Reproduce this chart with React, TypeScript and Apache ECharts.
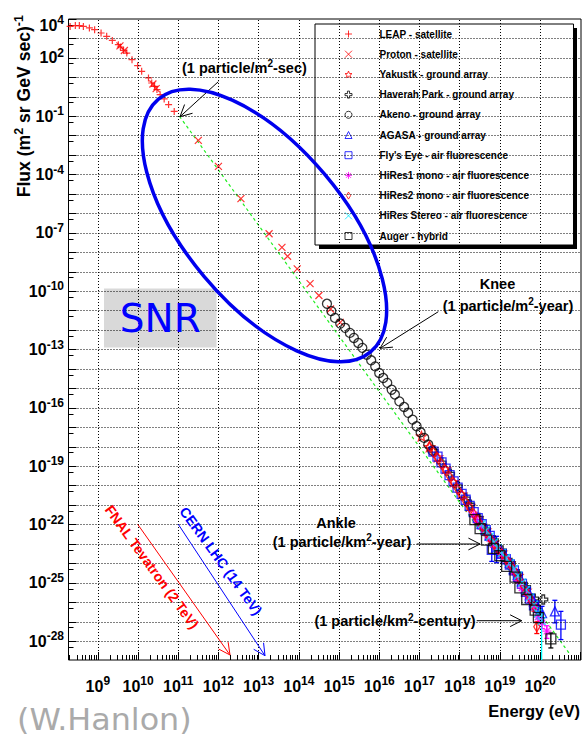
import React, { useEffect, useRef } from "react";
import * as echarts from "echarts";

// ---------- axis extents (log10 units) ----------
const xLogMin = 8.27;
const xLogMax = 21.02;
const yLogMin = -28.96;
const yLogMax = 4;

const xMajorTicks = [9, 10, 11, 12, 13, 14, 15, 16, 17, 18, 19, 20, 21];
const xTickLabels = [9, 10, 11, 12, 13, 14, 15, 16, 17, 18, 19, 20];
const xGridLines = [9, 10, 11, 12, 13, 14, 15, 16, 17, 18, 19, 20];
const yMajorTicks = [4, 3, 2, 1, 0, -1, -2, -3, -4, -5, -6, -7, -8, -9, -10, -11, -12, -13, -14, -15, -16, -17, -18, -19, -20, -21, -22, -23, -24, -25, -26, -27, -28];
const yGridLines = [3, 2, 1, 0, -1, -2, -3, -4, -5, -6, -7, -8, -9, -10, -11, -12, -13, -14, -15, -16, -17, -18, -19, -20, -21, -22, -23, -24, -25, -26, -27, -28];
const yTickLabels = [3.68, 2, -1, -4, -7, -10, -13, -16, -19, -22, -25, -28];

// ---------- data: [log10 E(eV), log10 flux] ----------
const leap: number[][] = [
  [8.31, 3.62], [8.44, 3.66], [8.54, 3.66], [8.64, 3.62], [8.79, 3.54], [8.92, 3.45],
  [9.08, 3.28], [9.22, 3.11], [9.36, 2.9], [9.51, 2.68], [9.56, 2.56], [9.64, 2.39],
  [9.72, 2.25], [9.85, 1.91], [9.99, 1.6], [10.09, 1.31], [10.26, 0.97], [10.34, 0.71],
  [10.41, 0.54], [10.47, 0.37], [10.55, 0.11], [10.65, -0.11], [10.76, -0.4], [10.9, -0.75]
];
const proton: number[][] = [
  [9.55, 2.62], [9.66, 2.38], [10.37, 0.66], [10.45, 0.42], [11.5, -2.24], [12.0, -3.58],
  [12.56, -5.24], [13.26, -7.04], [13.58, -7.74], [13.72, -8.2], [13.96, -8.85],
  [14.28, -9.61], [14.5, -10.22], [14.79, -10.91], [15.03, -11.6]
];
const yakutsk: number[][] = [
  [17.05, -17.45], [17.25, -18.0], [17.45, -18.52], [17.65, -19.12], [17.85, -19.8],
  [18.05, -20.42], [18.25, -21.05], [18.45, -21.66], [18.65, -22.28], [18.85, -22.9],
  [19.05, -23.42], [19.25, -23.98], [19.45, -24.62], [19.65, -25.38], [19.85, -26.08]
];
const haverah: number[][] = [
  [17.35, -18.2], [17.55, -18.8], [17.76, -19.38], [17.95, -20.02], [18.15, -20.65],
  [18.26, -20.97], [18.47, -21.65], [18.65, -22.22], [18.85, -22.8], [19.05, -23.33],
  [19.27, -23.97], [19.45, -24.55], [19.65, -25.2], [19.85, -25.8], [20.08, -25.85]
];
const akeno: number[][] = [
  [14.7, -10.64], [14.81, -11.02], [14.9, -11.37], [15.03, -11.66], [15.15, -11.88],
  [15.27, -12.14], [15.37, -12.4], [15.48, -12.66], [15.58, -12.91], [15.69, -13.26],
  [15.8, -13.55], [15.9, -13.86], [16.0, -14.2], [16.1, -14.46], [16.2, -14.71],
  [16.31, -15.06], [16.39, -15.31], [16.5, -15.66], [16.62, -15.95], [16.72, -16.25],
  [16.83, -16.6], [16.93, -16.94], [17.03, -17.25], [17.12, -17.54], [17.22, -17.88],
  [17.32, -18.2]
];
const agasa: number[][] = [
  [18.55, -21.95], [18.65, -22.24], [18.75, -22.55], [18.85, -22.86], [18.95, -23.15],
  [19.05, -23.42], [19.15, -23.68], [19.25, -23.95], [19.35, -24.28], [19.45, -24.58],
  [19.55, -24.92], [19.65, -25.3], [19.75, -25.62], [19.85, -25.95], [19.95, -26.25],
  [20.05, -26.55], [20.37, -26.46]
];
const flysEye: number[][] = [
  [17.35, -18.25], [17.45, -18.5], [17.55, -18.8], [17.65, -19.12], [17.75, -19.45],
  [17.85, -19.78], [17.95, -20.1], [18.05, -20.42], [18.15, -20.72], [18.25, -21.03],
  [18.35, -21.36], [18.45, -21.66], [18.55, -21.98], [18.65, -22.28], [18.75, -22.58],
  [18.8, -23.3], [18.92, -23.28], [19.05, -23.5], [19.15, -23.78], [19.25, -24.05],
  [19.35, -24.35], [19.45, -24.68], [19.55, -25.05], [19.65, -25.45], [19.75, -25.8],
  [19.85, -26.15], [20.52, -27.14]
];
const hires1: number[][] = [
  [18.35, -21.48], [18.45, -21.78], [18.55, -22.1], [18.65, -22.42], [18.75, -22.72],
  [18.85, -23.02], [18.95, -23.28], [19.05, -23.52], [19.15, -23.78], [19.25, -24.05],
  [19.35, -24.4], [19.45, -24.85], [19.55, -25.25], [19.65, -25.5], [19.75, -25.85],
  [19.85, -26.2], [19.95, -26.75], [20.05, -27.05], [20.17, -27.48]
];
const hires2: number[][] = [
  [17.25, -17.98], [17.35, -18.28], [17.45, -18.56], [17.55, -18.88], [17.65, -19.2],
  [17.75, -19.52], [17.85, -19.84], [17.95, -20.17], [18.05, -20.48], [18.15, -20.8],
  [18.25, -21.12], [18.35, -21.44], [18.45, -21.75], [18.55, -22.06], [18.65, -22.38],
  [18.75, -22.68], [18.85, -22.98], [18.95, -23.25], [19.05, -23.5], [19.15, -23.76],
  [19.25, -24.02], [19.35, -24.32], [19.45, -24.66], [19.55, -25.02], [19.65, -25.42],
  [19.75, -25.78], [19.85, -26.2], [19.92, -27.25]
];
const hiresStereo: number[][] = [
  [18.55, -21.98], [18.65, -22.3], [18.75, -22.62], [18.85, -22.92], [18.95, -23.2],
  [19.05, -23.46], [19.15, -23.72], [19.25, -23.98], [19.35, -24.28], [19.45, -24.62],
  [19.55, -24.98], [19.65, -25.36], [19.75, -25.74], [19.85, -26.12], [19.95, -26.55],
  [20.04, -26.95]
];
const auger: number[][] = [
  [18.38, -21.74], [18.51, -22.2], [18.67, -22.8], [18.84, -23.22], [19.0, -23.6],
  [19.17, -24.15], [19.38, -24.7], [19.5, -25.25], [19.67, -25.85], [19.88, -26.4],
  [19.96, -26.78], [20.27, -27.87]
];
// error bars: [log10 E, low, high]
const agasaErr: number[][] = [[20.37, -27.05, -25.89], [19.95, -26.55, -25.98], [20.05, -26.95, -26.2]];
const flysEyeErr: number[][] = [[18.8, -23.89, -22.77], [18.92, -23.96, -22.6], [20.52, -27.91, -26.46]];
const hires1Err: number[][] = [[20.17, -27.85, -27.2], [20.05, -27.35, -26.8], [19.95, -27.0, -26.5]];
const hires2Err: number[][] = [[19.92, -27.6, -27.0], [19.85, -26.45, -25.98]];
const stereoErr: number[][] = [[20.04, -30, -26.6], [19.95, -26.85, -26.3]];
const augerErr: number[][] = [[20.27, -28.34, -27.57]];
// E^-2.85 reference line
const refLine: number[][] = [[11.03, -1.0], [20.75, -28.68]];

const legendNames = [
  "LEAP - satellite", "Proton - satellite", "Yakustk - ground array",
  "Haverah Park - ground array", "Akeno - ground array", "AGASA - ground array",
  "Fly's Eye - air fluorescence", "HiRes1 mono - air fluorescence",
  "HiRes2 mono - air fluorescence", "HiRes Stereo - air fluorescence", "Auger - hybrid"
];

const FONT = '"Liberation Sans", Arial, Helvetica, sans-serif';

const SYM_PLUS = "path://M0,5L10,5M5,0L5,10";
const SYM_X = "path://M0,0L10,10M10,0L0,10";
const SYM_STAR = "path://M5,0L6.293,3.22L9.755,3.455L7.092,5.68L7.939,9.045L5,7.2L2.061,9.045L2.908,5.68L0.245,3.455L3.707,3.22Z";
const SYM_OCROSS = "path://M3.5,0L6.5,0L6.5,3.5L10,3.5L10,6.5L6.5,6.5L6.5,10L3.5,10L3.5,6.5L0,6.5L0,3.5L3.5,3.5Z";
const SYM_AST = "path://M0,5L10,5M5,0L5,10M1.5,1.5L8.5,8.5M8.5,1.5L1.5,8.5";
const SYM_DIAM = "path://M3,0L6,5L3,10L0,5Z";

function minorTicks(lo: number, hi: number, from: number, to: number, ks: number[]) {
  const out: number[] = [];
  for (let n = from; n <= to; n++) {
    for (const k of ks) {
      const v = n + Math.log10(k);
      if (v > lo && v < hi) out.push(+v.toFixed(4));
    }
  }
  return out;
}

function scatter(name: string, data: number[][], symbol: string, size: any, color: string, lw = 1.3) {
  return {
    type: "scatter", name, data, symbol, symbolSize: size, symbolKeepAspect: true,
    itemStyle: { color: "rgba(0,0,0,0)", borderColor: color, borderWidth: lw },
    emphasis: { disabled: true }, silent: true, z: 3,
  };
}

function errSeries(name: string, data: number[][], color: string) {
  return {
    type: "custom", name, data, clip: true, silent: true, z: 3,
    encode: { x: 0, y: [1, 2] },
    renderItem: (_p: any, api: any) => {
      const x = api.value(0), lo = api.value(1), hi = api.value(2);
      const a = api.coord([x, hi]);
      const b = api.coord([x, lo]);
      const st = { stroke: color, lineWidth: 1.3 };
      return {
        type: "group",
        children: [
          { type: "line", shape: { x1: a[0], y1: a[1], x2: b[0], y2: b[1] }, style: st },
          { type: "line", shape: { x1: a[0] - 2.5, y1: a[1], x2: a[0] + 2.5, y2: a[1] }, style: st },
          { type: "line", shape: { x1: b[0] - 2.5, y1: b[1], x2: b[0] + 2.5, y2: b[1] }, style: st },
        ],
      };
    },
  };
}

function arrow(x1: number, y1: number, x2: number, y2: number, color: string) {
  const dx = x2 - x1, dy = y2 - y1;
  const len = Math.hypot(dx, dy);
  const ux = dx / len, uy = dy / len;
  const L = 13, ang = (27 * Math.PI) / 180;
  const rot = (c: number, s: number) => [ux * c - uy * s, ux * s + uy * c];
  const r1 = rot(Math.cos(ang), Math.sin(ang));
  const r2 = rot(Math.cos(ang), -Math.sin(ang));
  return [
    { type: "line", shape: { x1, y1, x2, y2 }, style: { stroke: color, lineWidth: 1 }, z: 8 },
    {
      type: "polyline",
      shape: { points: [[x2 - L * r1[0], y2 - L * r1[1]], [x2, y2], [x2 - L * r2[0], y2 - L * r2[1]]] },
      style: { stroke: color, lineWidth: 1, fill: "none" }, z: 8,
    },
  ];
}

const annRich = (size: number) => ({
  a: { fontSize: size, fontWeight: "bold", fontFamily: FONT, lineHeight: 18, fill: "#000" },
  s: { fontSize: 10, fontWeight: "bold", fontFamily: FONT, lineHeight: 11, verticalAlign: "top", fill: "#000" },
});

function annText(x: number, y: number, text: string, align = "center") {
  return {
    type: "text", x, y, z: 8,
    style: { text, rich: annRich(14.5), align, verticalAlign: "middle", fill: "#000" },
  };
}

export default function App() {
  const ref = useRef<HTMLDivElement>(null);
  useEffect(() => {
    if (!ref.current) return;
    const chart = echarts.init(ref.current, null, { renderer: "svg", width: 582, height: 738 });

    const xMinor = minorTicks(xLogMin, xLogMax, 8, 20, [2, 3, 4, 5, 6, 7, 8, 9]);
    const yMinor = minorTicks(yLogMin, yLogMax, -29, 3, [5]);

    const labelRich = {
      b: { fontSize: 16, fontWeight: "bold", fontFamily: FONT, color: "#000", lineHeight: 22 },
      s: { fontSize: 12, fontWeight: "bold", fontFamily: FONT, color: "#000", lineHeight: 13, verticalAlign: "top" },
    };
    const fmt = (v: number) => `{b|10}{s|${Math.round(v)}}`;
    const gridStyle = { color: "#000", width: 1, type: [1, 2] };

    const option: any = {
      animation: false,
      backgroundColor: "#fff",
      grid: {
        left: 68.5, top: 19, right: 1, bottom: 78, show: true,
        borderColor: "#000", borderWidth: 1, backgroundColor: "transparent",
        containLabel: false, outerBoundsMode: "none",
      },
      xAxis: [
        {
          type: "value", min: xLogMin, max: xLogMax, position: "bottom",
          axisLine: { show: false, onZero: false },
          axisTick: { show: true, inside: true, length: 8, customValues: xMajorTicks, lineStyle: { color: "#000" } },
          axisLabel: { customValues: xTickLabels, formatter: fmt, rich: labelRich, margin: 15 },
          splitLine: { show: false },
        },
        {
          type: "value", min: xLogMin, max: xLogMax, position: "bottom",
          axisLine: { show: false, onZero: false },
          axisTick: { show: true, inside: true, length: 5, customValues: xMinor, lineStyle: { color: "#000" } },
          axisLabel: { show: false },
          splitLine: { show: false },
        },
      ],
      yAxis: [
        {
          type: "value", min: yLogMin, max: yLogMax, position: "left",
          axisLine: { show: false, onZero: false },
          axisTick: { show: true, inside: true, length: 8, customValues: yMajorTicks, lineStyle: { color: "#000" } },
          axisLabel: { customValues: yTickLabels, formatter: fmt, rich: labelRich, margin: 4.5 },
          splitLine: { show: false },
        },
        {
          type: "value", min: yLogMin, max: yLogMax, position: "left",
          axisLine: { show: false, onZero: false },
          axisTick: { show: true, inside: true, length: 5, customValues: yMinor, lineStyle: { color: "#000" } },
          axisLabel: { show: false },
          splitLine: { show: false },
        },
      ],
      legend: {
        data: legendNames, orient: "vertical", left: 315, top: 24,
        padding: [4, 44.5, 3, 29.5], itemGap: 8.2, itemWidth: 7, itemHeight: 7,
        backgroundColor: "#fff", borderColor: "#000", borderWidth: 1, borderRadius: 0,
        selectedMode: false, z: 4,
        itemStyle: { borderWidth: 1 },
        textStyle: { fontFamily: FONT, fontWeight: "bold", fontSize: 10, color: "#000", lineHeight: 12, padding: [0, 0, 0, 22.5] },
      },
      series: [
        {
          type: "line", name: "grid", data: [], silent: true, z: 1,
          markLine: {
            silent: true, symbol: ["none", "none"], animation: false,
            label: { show: false }, emphasis: { disabled: true },
            lineStyle: gridStyle,
            data: [
              ...xGridLines.map((v) => ({ xAxis: v })),
              ...yGridLines.map((v) => ({ yAxis: v })),
            ],
          },
        },
        {
          type: "line", name: "ref", data: refLine, showSymbol: false, silent: true, z: 2,
          lineStyle: { color: "#22ee22", width: 1.2, type: [3, 3] },
        },
        scatter(legendNames[0], leap, SYM_PLUS, 7, "#ff0000", 1.2),
        scatter(legendNames[1], proton, SYM_X, 7, "#ff0000", 1.2),
        scatter(legendNames[2], yakutsk, SYM_STAR, 10, "#ff0000"),
        scatter(legendNames[3], haverah, SYM_OCROSS, 9, "#000000"),
        scatter(legendNames[4], akeno, "circle", 9, "#000000"),
        errSeries("agasa-err", agasaErr, "#0000ff"),
        scatter(legendNames[5], agasa, "triangle", 9, "#0000ff"),
        errSeries("fly-err", flysEyeErr, "#0000ff"),
        scatter(legendNames[6], flysEye, "rect", 9, "#0000ff"),
        errSeries("hires1-err", hires1Err, "#ff00ff"),
        scatter(legendNames[7], hires1, SYM_AST, 9, "#ff00ff"),
        errSeries("hires2-err", hires2Err, "#ff0000"),
        scatter(legendNames[8], hires2, SYM_DIAM, 10, "#ff0000"),
        errSeries("stereo-err", stereoErr, "#00ffff"),
        scatter(legendNames[9], hiresStereo, SYM_X, 8, "#00e5ff", 1.4),
        errSeries("auger-err", augerErr, "#000000"),
        scatter(legendNames[10], auger, "rect", 10, "#000000"),
      ],
      graphic: [
        { type: "rect", shape: { x: 319, y: 28, width: 258, height: 221 }, style: { fill: "#000" }, z: 3, silent: true },
        { type: "rect", shape: { x: 104, y: 288.5, width: 112.5, height: 59 }, style: { fill: "#d9d9d9" }, z: 5, silent: true },
        {
          type: "text", x: 160.3, y: 318.5, z: 6,
          style: { text: "SNR", fill: "#0000ff", fontSize: 39, fontFamily: '"DejaVu Sans", sans-serif', align: "center", verticalAlign: "middle" },
        },
        {
          type: "ellipse", x: 264.5, y: 225.5, rotation: (-50 * Math.PI) / 180, z: 10, silent: true,
          shape: { cx: 0, cy: 0, rx: 165, ry: 79 },
          style: { fill: "none", stroke: "#0000ee", lineWidth: 3.5 },
        },
        // annotations
        annText(182, 67.5, "{a|(1 particle/m}{s|2}{a|-sec)}", "left"),
        ...arrow(218.3, 81.7, 180, 116.7, "#000"),
        annText(497.5, 284, "{a|Knee}"),
        annText(508, 305.5, "{a|(1 particle/m}{s|2}{a|-year)}"),
        ...arrow(438.3, 311.7, 380, 348.3, "#000"),
        annText(336, 522.5, "{a|Ankle}"),
        annText(342, 541.5, "{a|(1 particle/km}{s|2}{a|-year)}"),
        ...arrow(416.7, 544, 480, 544, "#000"),
        annText(395, 621, "{a|(1 particle/km}{s|2}{a|-century)}"),
        ...arrow(476.7, 620.7, 521.7, 620.7, "#000"),
        ...arrow(137.7, 524.3, 230, 655, "#ff0000"),
        ...arrow(178.3, 524.3, 265, 655.7, "#0000ff"),
        {
          type: "text", x: 152, y: 567, rotation: (-54 * Math.PI) / 180, z: 8,
          style: { text: "FNAL Tevatron (2 TeV)", fill: "#ff0000", fontSize: 14, fontWeight: "bold", fontFamily: FONT, align: "center", verticalAlign: "middle" },
        },
        {
          type: "text", x: 221, y: 561, rotation: (-54 * Math.PI) / 180, z: 8,
          style: { text: "CERN LHC (14 TeV)", fill: "#0000ff", fontSize: 14, fontWeight: "bold", fontFamily: FONT, align: "center", verticalAlign: "middle" },
        },
        // axis titles
        {
          type: "text", x: 23.5, y: 15, rotation: Math.PI / 2, z: 8,
          style: {
            text: "{a|Flux (m}{s|2}{a| sr GeV sec)}{s|-1}",
            rich: {
              a: { fontSize: 17.6, fontWeight: "bold", fontFamily: FONT, lineHeight: 22, fill: "#000" },
              s: { fontSize: 12.5, fontWeight: "bold", fontFamily: FONT, lineHeight: 13, verticalAlign: "top", fill: "#000" },
            },
            align: "right", verticalAlign: "middle", fill: "#000",
          },
        },
        {
          type: "text", x: 580, y: 711, z: 8,
          style: { text: "Energy (eV)", fill: "#000", fontSize: 16.5, fontWeight: "bold", fontFamily: FONT, align: "right", verticalAlign: "middle" },
        },
        {
          type: "text", x: 17, y: 719, scaleX: 1.06, z: 8,
          style: { text: "(W.Hanlon)", fill: "#aaaaaa", fontSize: 30, fontFamily: '"DejaVu Sans", sans-serif', align: "left", verticalAlign: "middle" },
        },
      ],
    };
    chart.setOption(option);
    return () => chart.dispose();
  }, []);
  return (
    <div
      ref={ref}
      style={{ position: "fixed", left: 0, top: 0, width: 582, height: 738, background: "#fff" }}
    />
  );
}
